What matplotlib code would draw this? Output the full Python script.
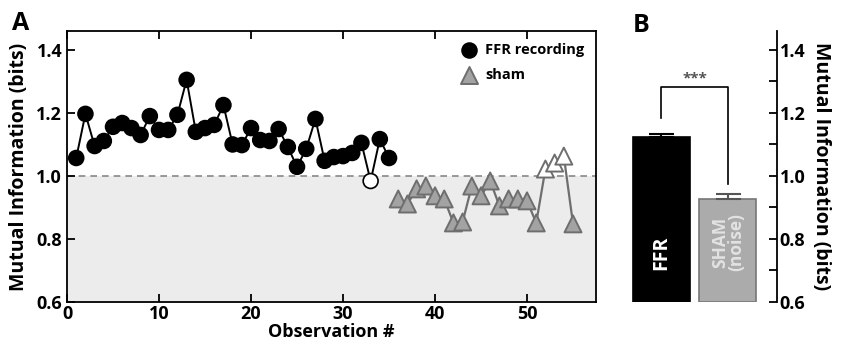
import matplotlib.pyplot as plt
import numpy as np

#----------------------
# Dados
#----------------------

# Observacoes FFR (circulos pretos)
ffr_obs = list(range(1, 36))
ffr_mi = [1.057, 1.197, 1.095, 1.111, 1.156, 1.168, 1.152, 1.130, 1.190, 1.146,
          1.146, 1.194, 1.305, 1.140, 1.152, 1.162, 1.225, 1.100, 1.098, 1.152,
          1.114, 1.111, 1.149, 1.092, 1.029, 1.086, 1.181, 1.048, 1.060, 1.063,
          1.073, 1.105, 0.984, 1.117, 1.057]

# Observacoes sham
sham_obs = list(range(36, 56))
sham_mi = [0.927, 0.911, 0.959, 0.968, 0.937, 0.927, 0.851, 0.854, 0.968, 0.937,
           0.984, 0.905, 0.927, 0.927, 0.921, 0.851, 1.022, 1.041, 1.063, 0.848]

# Medias (painel B)
bar_names = ['FFR', 'SHAM\n(noise)']
bar_means = [1.124, 0.927]
bar_err = [0.008, 0.015]

threshold = 1.0

#----------------------
# Plotagem
#----------------------

plt.rcParams['font.family'] = ['Open Sans', 'DejaVu Sans']
plt.rcParams['font.weight'] = 'bold'

fig = plt.figure(figsize=(8.41, 3.54), dpi=100)
axA = fig.add_axes([0.0797, 0.1469, 0.629, 0.7655])
axB = fig.add_axes([0.743, 0.1469, 0.181, 0.7655])

# Painel A
axA.axhspan(0.6, threshold, color='#ececec', zorder=0, lw=0)
axA.axhline(threshold, color='#888888', ls=(0, (4, 3)), lw=1.2, zorder=1)

# marcas brancas: pontos que cruzam o limiar
ffr_face = ['white' if v < threshold else 'black' for v in ffr_mi]
sham_face = ['white' if v > threshold else '#a3a3a3' for v in sham_mi]

axA.plot(ffr_obs, ffr_mi, color='black', lw=1.4, zorder=2)
axA.scatter(ffr_obs, ffr_mi, s=115, c=ffr_face, edgecolors='black', lw=1.2,
            zorder=3, label='FFR recording')
axA.plot(sham_obs, sham_mi, color='#6e6e6e', lw=1.6, zorder=2)
axA.scatter(sham_obs, sham_mi, s=150, marker='^', c=sham_face,
            edgecolors='#6e6e6e', lw=1.4, zorder=3, label='sham')

axA.set_xlim(0, 57.5)
axA.set_ylim(0.6, 1.46)
axA.set_xticks([0, 10, 20, 30, 40, 50])
axA.set_yticks([0.6, 0.8, 1.0, 1.2, 1.4])
axA.set_yticklabels(['0.6', '0.8', '1.0', '1.2', '1.4'])
axA.tick_params(axis='both', labelsize=13, width=1.3, length=6, direction='in')
axA.tick_params(axis='x', top=True, pad=2)
for s in axA.spines.values():
    s.set_linewidth(1.3)
axA.set_xlabel('Observation #', fontsize=13, fontweight='bold', labelpad=0)
axA.set_ylabel('Mutual Information (bits)', fontsize=14, fontweight='bold', labelpad=5)

leg = axA.legend(loc='upper right', bbox_to_anchor=(1.0, 1.0), frameon=False,
                 fontsize=10.5, handletextpad=0.1, borderaxespad=0.4,
                 labelspacing=0.75)
leg.legend_handles[0].set_facecolor('black')
leg.legend_handles[1].set_facecolor('#a3a3a3')

fig.text(0.0145, 0.968, 'A', fontsize=18, fontweight='bold', va='top')

# Painel B
x_pos = np.arange(len(bar_names))
bar_colors = ['black', '#ababab']
bar_edges = ['black', '#777777']
err_colors = ['black', '#555555']
axB.bar(x_pos, np.array(bar_means) - 0.6, bottom=0.6, width=0.86,
        color=bar_colors, edgecolor=bar_edges, lw=1.2)
for i in range(len(bar_names)):
    axB.errorbar(x_pos[i], bar_means[i], yerr=[[0], [bar_err[i]]], fmt='none',
                 ecolor=err_colors[i], capsize=9, capthick=1.5, elinewidth=1.5)
axB.text(0, 0.755, bar_names[0], rotation=90, color='white', fontsize=14,
         fontweight='bold', ha='center', va='center')
axB.text(1, 0.79, bar_names[1], rotation=90, color='#e2e2e2', fontsize=12.5,
         fontweight='bold', ha='center', va='center', linespacing=0.85)

# colchete de significancia
axB.plot([0, 0, 1, 1], [1.184, 1.283, 1.283, 0.975], color='black', lw=1.2)
axB.text(0.5, 1.286, '***', ha='center', va='bottom', fontsize=11, color='#555555')

axB.set_xlim(-0.55, 1.74)
axB.set_ylim(0.6, 1.46)
axB.yaxis.tick_right()
axB.yaxis.set_label_position('right')
axB.set_yticks([0.6, 0.8, 1.0, 1.2, 1.4])
axB.set_yticklabels(['0.6', '0.8', '1.0', '1.2', '1.4'])
axB.set_yticks([0.7, 0.9, 1.1, 1.3], minor=True)
axB.tick_params(axis='y', labelsize=13, width=1.3, length=6, direction='in', pad=2)
axB.tick_params(axis='y', which='minor', width=1.3, length=6, direction='in')
axB.set_xticks([])
for k in ['left', 'top', 'bottom']:
    axB.spines[k].set_visible(False)
axB.spines['right'].set_linewidth(1.3)
axB.set_ylabel('Mutual Information (bits)', fontsize=14, fontweight='bold',
               rotation=270, labelpad=18)

fig.text(0.752, 0.962, 'B', fontsize=18, fontweight='bold', va='top')

plt.savefig('out.png', dpi=100)
